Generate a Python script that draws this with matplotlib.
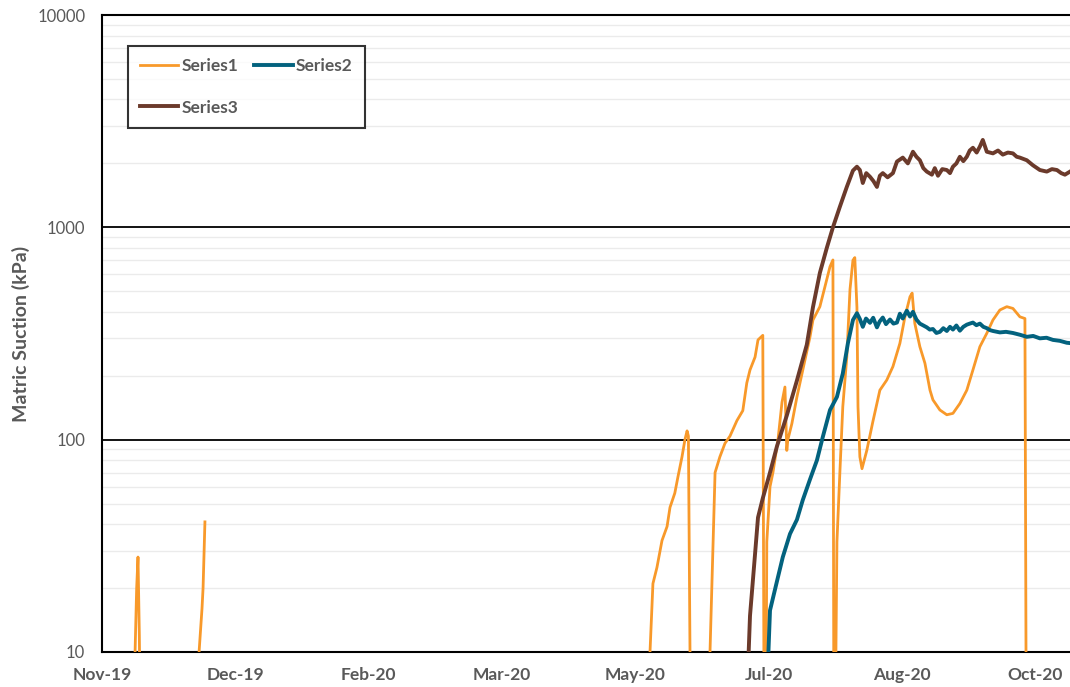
import numpy as np
import pandas as pd
import matplotlib

matplotlib.use("Agg")
import matplotlib.pyplot as plt
import matplotlib.dates as mdates
from matplotlib.ticker import LogLocator, NullFormatter, FixedLocator, FixedFormatter

# day offsets are counted from this date
START = pd.Timestamp("2019-11-01")
NAN = np.nan

# Series1 - several separate wetting/drying segments (NaN = gap)
s1_days = [
    12.0, 12.4, 13.0, 13.5, 14.0, 14.3, NAN,
    36.2, 36.4, 37.5, 37.9, 38.6, NAN,
    205.3, 205.5, 206.6, 208.1, 210.0, 211.9, 213.0, 214.8, 216.0, 217.5, 218.6, 219.4, 219.9, 220.5, 220.6, NAN,
    227.9, 228.0, 229.9, 231.7, 233.6, 235.5, 238.1, 240.3, 241.8, 243.0, 244.9, 246.0, 247.8, 248.2, 248.3, NAN,
    249.0, 249.3, 250.5, 251.6, 253.5, 255.0, 256.1, 256.8, 257.2, 258.7, 260.6, 262.8, 265.5, 266.6, 269.2,
    271.1, 273.0, 274.1, 274.4, 274.5, NAN,
    275.0, 275.6, 276.7, 277.8, 279.3, 280.5, 281.6, 282.3, 283.1, 283.5, 284.2, 285.0, 286.8, 289.1, 291.7,
    294.3, 296.6, 299.2, 301.1, 303.0, 303.8, 304.8, 306.7, 308.6, 310.5, 311.6, 314.2, 316.8, 319.1, 321.7,
    324.3, 326.6, 329.2, 331.8, 334.1, 336.7, 339.3, 341.6, 344.2, 346.1, 346.5, 346.6,
]
s1_vals = [
    5, 10, 20, 28, 12, 5, NAN,
    5, 10, 16, 20, 41, NAN,
    5, 10, 21, 25, 33.5, 39, 48, 56, 67, 83, 100, 110, 104, 10, 5, NAN,
    5, 10, 70, 83, 96, 104, 123, 137, 185, 213, 245, 295, 310, 10, 5, NAN,
    5, 33, 60, 70, 100, 150, 177, 89, 100, 119, 159, 213, 305, 366, 423,
    525, 653, 702, 10, 5, NAN,
    5, 33, 70, 143, 245, 510, 700, 720, 420, 143, 83, 73, 89, 122, 171,
    191, 221, 284, 379, 471, 490, 353, 274, 229, 171, 154, 138, 131, 133, 148,
    171, 213, 274, 317, 366, 408, 423, 415, 379, 372, 10, 5,
]

# Series2
s2_days = [
    249.0, 250.5, 253.1, 255.3, 258.0, 260.6, 262.8, 265.5, 268.1, 270.3, 273.0, 275.6, 277.8,
    279.7, 281.6, 283.1, 284.2, 285.3, 286.5, 288.0, 289.2, 290.6, 291.6, 292.8, 294.0, 295.5,
    296.8, 298.1, 299.2, 300.3, 301.8, 303.0, 304.1, 305.4, 306.7, 308.0, 309.3, 310.4, 311.6,
    312.9, 314.2, 315.5, 316.8, 318.0, 319.1, 320.4, 321.7, 323.0, 324.3, 325.4, 326.6, 327.9,
    329.2, 330.5, 331.8, 333.0, 334.1, 336.7, 339.0, 341.6, 344.2, 346.8, 349.2, 351.7, 354.2,
    356.6, 359.2, 361.8, 363.0,
]
s2_vals = [
    5, 15.7, 21.5, 28, 36, 42, 52, 65, 80, 103, 138, 159, 205,
    284, 366, 394, 370, 340, 372, 355, 375, 338, 360, 376, 350, 368,
    352, 356, 392, 372, 405, 380, 400, 368, 352, 345, 338, 330, 332,
    318, 322, 335, 325, 340, 330, 345, 326, 340, 348, 352, 356, 346,
    352, 340, 335, 328, 325, 320, 322, 318, 312, 305, 308, 300, 302,
    295, 292, 286, 285,
]

# Series3
s3_days = [
    242.2, 242.5, 243.0, 244.8, 246.0, 247.8, 250.5, 253.1, 256.8, 260.6, 264.3, 266.6, 269.2,
    271.8, 274.1, 276.7, 279.3, 281.6, 283.1, 284.2, 285.3, 286.6, 288.0, 289.3, 290.6, 291.7,
    292.8, 294.6, 296.6, 298.1, 300.3, 302.2, 304.1, 305.4, 306.7, 308.0, 309.3, 311.2, 312.3,
    313.5, 315.1, 316.8, 318.0, 319.1, 320.4, 321.7, 323.0, 324.3, 325.4, 326.6, 328.0, 329.2,
    330.3, 331.8, 334.1, 336.0, 337.8, 339.7, 341.6, 343.0, 344.2, 346.8, 349.1, 351.7, 354.3,
    356.2, 358.1, 359.7, 361.1, 363.0,
]
s3_vals = [
    5, 10, 14.8, 28, 43, 53, 70, 93, 130, 190, 280, 420, 610,
    800, 1000, 1250, 1550, 1850, 1930, 1862, 1617, 1800, 1730, 1650, 1550, 1750,
    1800, 1720, 1800, 2040, 2130, 2000, 2270, 2150, 2070, 1900, 1830, 1770, 1900,
    1750, 1880, 1862, 1800, 1930, 2000, 2150, 2050, 2150, 2300, 2370, 2250, 2400,
    2580, 2270, 2230, 2300, 2200, 2250, 2230, 2150, 2130, 2070, 1960, 1862, 1830,
    1880, 1862, 1800, 1770, 1830,
]

LABELS = ["Series1", "Series2", "Series3"]
COLORS = ["#F8992A", "#03627E", "#6B3A2B"]
TICK_GREY = "#595959"

X_TICK_DAYS = [0, 50, 100, 150, 200, 250, 300, 350]
Y_MAJOR = [10, 100, 1000, 10000]

T0 = mdates.date2num(START)


def to_datenum(days):
    # NaN stays NaN, so gaps survive
    return T0 + np.asarray(days, dtype=float)


plt.rcParams["font.family"] = ["Lato", "DejaVu Sans"]

fig = plt.figure(figsize=(10.7, 6.87), dpi=100)
ax = fig.add_axes([102 / 1070, 1 - 652 / 687, 968 / 1070, 637 / 687])
ax.xaxis_date()

ax.set_yscale("log")
ax.set_ylim(10, 10000)
ax.set_xlim(T0, T0 + 363)

# gridlines: light minor lines, black major lines
ax.yaxis.set_minor_locator(LogLocator(base=10, subs=np.arange(2, 10)))
ax.yaxis.set_minor_formatter(NullFormatter())
ax.grid(axis="y", which="minor", color="#EBEBEB", linewidth=1.0)
ax.grid(axis="y", which="major", color="black", linewidth=1.3)
ax.set_axisbelow(True)

lines = []
series = [(s1_days, s1_vals, 2.0), (s2_days, s2_vals, 2.8), (s3_days, s3_vals, 2.8)]
for (days, vals, lw), label, color in zip(series, LABELS, COLORS):
    (ln,) = ax.plot(to_datenum(days), vals, color=color, linewidth=lw, label=label,
                    solid_joinstyle="round", zorder=3)
    lines.append(ln)

ax.yaxis.set_major_locator(FixedLocator(Y_MAJOR))
ax.yaxis.set_major_formatter(FixedFormatter([str(v) for v in Y_MAJOR]))
ax.set_xticks(to_datenum(X_TICK_DAYS))
ax.xaxis.set_major_formatter(mdates.DateFormatter("%b-%y"))

ax.tick_params(axis="both", which="both", length=0)
ax.tick_params(axis="y", labelsize=12, labelcolor=TICK_GREY, pad=12)
ax.tick_params(axis="x", labelsize=12.5, labelcolor=TICK_GREY, pad=11)
for lbl in ax.get_xticklabels():
    lbl.set_fontweight("bold")

ax.set_ylabel("Matric Suction (kPa)", fontsize=14, fontweight="bold",
              color=TICK_GREY, labelpad=5)

for side in ["top", "left", "bottom"]:
    ax.spines[side].set_color("black")
    ax.spines[side].set_linewidth(1.5)
ax.spines["right"].set_visible(False)

# row-wise legend order like the original: Series1, Series2 / Series3
order = [0, 2, 1]
leg = ax.legend([lines[i] for i in order], [LABELS[i] for i in order],
                loc="upper left", bbox_to_anchor=(0.027, 0.951), borderaxespad=0,
                ncol=2, frameon=True, fancybox=False, edgecolor="black",
                handlelength=2.2, handletextpad=0.2, columnspacing=0.9,
                labelspacing=1.45, borderpad=0.7, prop={"size": 12.5, "weight": "bold"})
leg.get_frame().set_linewidth(1.5)
for text in leg.get_texts():
    text.set_color(TICK_GREY)

fig.savefig("out.png", dpi=100)
plt.close(fig)
